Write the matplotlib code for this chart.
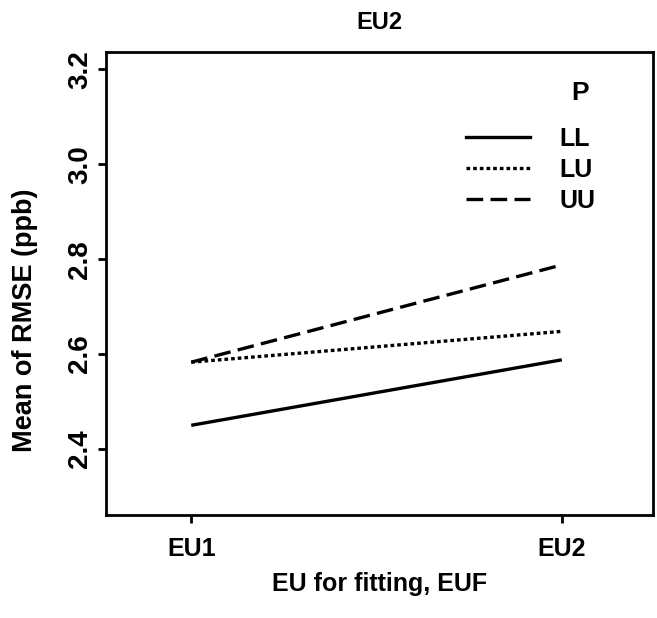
import matplotlib
matplotlib.use("Agg")
import matplotlib.pyplot as plt
from matplotlib.lines import Line2D

# Mean RMSE per fitting EU, grouped by parameter set P
euf_levels = ["EU1", "EU2"]
p_levels = ["LL", "LU", "UU"]
rmse_ll = [2.45, 2.588]
rmse_lu = [2.583, 2.648]
rmse_uu = [2.583, 2.788]
y_ticks = [2.4, 2.6, 2.8, 3.0, 3.2]

plt.rcParams["font.family"] = ["Liberation Sans", "DejaVu Sans"]
plt.rcParams["font.weight"] = "bold"

fig = plt.figure(figsize=(6.57, 6.18), dpi=100)
ax = fig.add_axes([106 / 657, 1 - 515 / 618, 547 / 657, 462.7 / 618])

styles = {
    "LL": dict(linestyle="-"),
    "LU": dict(linestyle=(0, (1.1, 0.9))),
    "UU": dict(linestyle=(0, (5, 2.2))),
}
series = {"LL": rmse_ll, "LU": rmse_lu, "UU": rmse_uu}
x = list(range(len(euf_levels)))

handles = []
for p in p_levels:
    ax.plot(x, series[p], color="black", lw=2.4,
            solid_capstyle="butt", dash_capstyle="butt", **styles[p])
    handles.append(Line2D([], [], color="black", lw=2.4, **styles[p]))

ax.set_xlim(-0.23, 1.246)
ax.set_ylim(2.261, 3.236)
ax.set_xticks(x, euf_levels)
ax.set_yticks(y_ticks, [f"{v:.1f}" for v in y_ticks])

for s in ax.spines.values():
    s.set_linewidth(2.0)
ax.tick_params(axis="both", direction="out", length=6, width=2)
ax.tick_params(axis="x", pad=10, labelsize=18)
ax.tick_params(axis="y", pad=3, labelsize=20)
for lbl in ax.get_yticklabels():
    lbl.set_rotation(90)
    lbl.set_va("center")

ax.set_title("EU2", fontsize=17, pad=17, fontweight="bold")
ax.set_xlabel("EU for fitting, EUF", fontsize=18, labelpad=8,
              fontweight="bold")
ax.set_ylabel("Mean of RMSE (ppb)", fontsize=19.5, fontweight="bold")
ax.yaxis.set_label_coords(-0.125, 0.42)

ax.text(0.8665, 0.912, "P", transform=ax.transAxes, fontsize=19,
        ha="center", va="center")
ax.legend(handles, p_levels, loc="upper left",
          bbox_to_anchor=(466 / 657, 1 - 127 / 618),
          bbox_transform=fig.transFigure, frameon=False, fontsize=18,
          handlelength=2.55, handletextpad=1.2, labelspacing=0.28,
          borderpad=0, borderaxespad=0)

fig.savefig("out.png", dpi=100)
